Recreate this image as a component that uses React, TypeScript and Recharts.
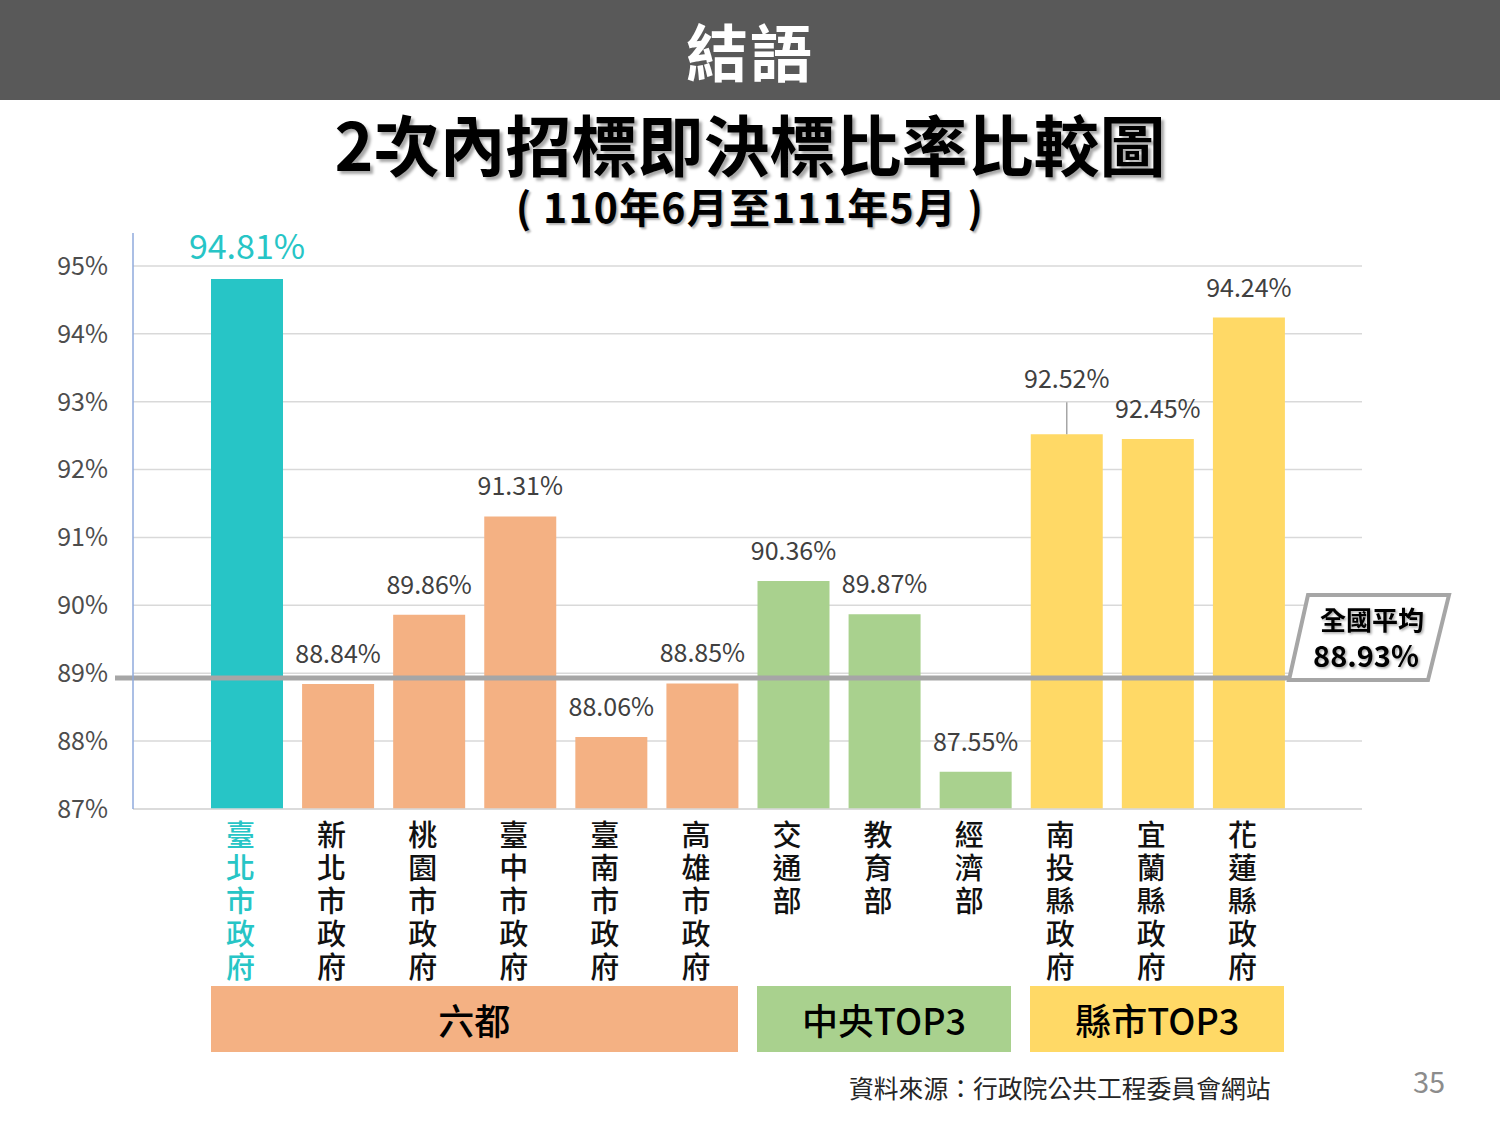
import React from "react";
import { Bar, BarChart, CartesianGrid, Cell, LabelList, ReferenceLine, XAxis, YAxis } from "recharts";

// 2次內招標即決標比率 (110年6月至111年5月)
const agencies = [
  "臺北市政府",
  "新北市政府",
  "桃園市政府",
  "臺中市政府",
  "臺南市政府",
  "高雄市政府",
  "交通部",
  "教育部",
  "經濟部",
  "南投縣政府",
  "宜蘭縣政府",
  "花蓮縣政府",
];
const rates = [94.81, 88.84, 89.86, 91.31, 88.06, 88.85, 90.36, 89.87, 87.55, 92.52, 92.45, 94.24];
const kinds = ["taipei", "six", "six", "six", "six", "six", "central", "central", "central", "county", "county", "county"];
const yTicks = [87, 88, 89, 90, 91, 92, 93, 94, 95];
const nationalAvg = 88.93;
const groupNames = ["六都", "中央TOP3", "縣市TOP3"];
const groupFirst = [0, 6, 9];
const groupLast = [5, 8, 11];

const COLORS: Record<string, string> = {
  taipei: "#27C5C6",
  six: "#F4B183",
  central: "#A9D18E",
  county: "#FFD966",
};
const GROUP_COLORS = [COLORS.six, COLORS.central, COLORS.county];

const FONT = '"Noto Sans CJK TC", "Noto Sans", sans-serif';
const LEADER_INDEX = 9;

// plot geometry (used only for the group boxes under the axis)
const PLOT_LEFT = 133;
const PLOT_RIGHT = 1362;
const X_PAD = 68;
const BAR_SIZE = 72;

const data = agencies.map((name, i) => ({ name, rate: rates[i], kind: kinds[i] }));

// vertical label: one glyph per line, stacked under the bar
function AgencyTick(props: any) {
  const { x, y, payload, index } = props;
  const chars = String(payload.value).split("");
  const color = kinds[index] === "taipei" ? COLORS.taipei : "#111111";
  return (
    <g>
      {chars.map((c, i) => (
        <text
          key={i}
          x={x - 6}
          y={y + 29 + i * 33}
          textAnchor="middle"
          fontSize={29}
          fontWeight={500}
          fontFamily={FONT}
          fill={color}
        >
          {c}
        </text>
      ))}
    </g>
  );
}

function RateLabel(props: any) {
  const { x, y, width, value, index } = props;
  const cx = x + width / 2;
  const big = kinds[index] === "taipei";
  const lift = index === LEADER_INDEX ? 46 : 21;
  return (
    <g>
      {index === LEADER_INDEX && (
        <line x1={cx} x2={cx} y1={y} y2={y - 32} stroke="#A6A6A6" strokeWidth={1.5} />
      )}
      <text
        x={cx}
        y={y - (big ? 20 : lift)}
        textAnchor="middle"
        fontFamily={FONT}
        fontSize={big ? 34 : 25}
        fill={big ? COLORS.taipei : "#404040"}
      >
        {`${Number(value).toFixed(2)}%`}
      </text>
    </g>
  );
}

function AvgLine(props: any) {
  const { x1, x2, y1 } = props;
  const px = x2 - 73;
  const py = y1;
  const pts = [
    [px + 19, py - 83],
    [px + 160, py - 83],
    [px + 139, py + 2],
    [px, py + 2],
  ]
    .map((p) => p.join(","))
    .join(" ");
  return (
    <g>
      <defs>
        <filter id="avgShadow" x="-10%" y="-10%" width="130%" height="140%">
          <feDropShadow dx="1.5" dy="1.5" stdDeviation="1" floodColor="#000" floodOpacity="0.35" />
        </filter>
      </defs>
      <line x1={x1 - 18} x2={px + 2} y1={py} y2={py} stroke="#A6A6A6" strokeWidth={5} />
      <polygon points={pts} fill="#FFFFFF" stroke="#A6A6A6" strokeWidth={4} />
      <g filter="url(#avgShadow)" fontFamily={FONT} fontWeight={700} fill="#000">
        <text x={px + 83} y={py - 48} textAnchor="middle" fontSize={26}>
          全國平均
        </text>
        <text x={px + 77} y={py - 11} textAnchor="middle" fontSize={29}>
          {`${nationalAvg.toFixed(2)}%`}
        </text>
      </g>
    </g>
  );
}

export default function App() {
  const band = (PLOT_RIGHT - PLOT_LEFT - 2 * X_PAD) / agencies.length;
  const inset = (band - BAR_SIZE) / 2;
  const bandStart = PLOT_LEFT + X_PAD;

  return (
    <div style={{ position: "absolute", left: 0, top: 0, width: 1500, height: 1125, background: "#fff", fontFamily: FONT }}>
      <div
        style={{
          position: "absolute",
          left: 0,
          top: 0,
          width: 1500,
          height: 100,
          background: "#595959",
          color: "#fff",
          fontSize: 62,
          fontWeight: 700,
          textAlign: "center",
          lineHeight: "100px",
          letterSpacing: 2,
        }}
      >
        結語
      </div>
      <div
        style={{
          position: "absolute",
          left: 0,
          top: 104,
          width: 1500,
          textAlign: "center",
          fontSize: 66,
          fontWeight: 700,
          lineHeight: "76px",
          color: "#000",
          textShadow: "3px 3px 3px rgba(0,0,0,0.35)",
        }}
      >
        2次內招標即決標比率比較圖
      </div>
      <div
        style={{
          position: "absolute",
          left: 0,
          top: 184,
          width: 1500,
          textAlign: "center",
          fontSize: 41,
          fontWeight: 700,
          lineHeight: "42px",
          color: "#000",
          whiteSpace: "pre",
          letterSpacing: 1.2,
          textShadow: "2px 2px 2px rgba(0,0,0,0.3)",
        }}
      >
        {"( 110年6月至111年5月 )"}
      </div>

      <div style={{ position: "absolute", left: 0, top: 0 }}>
        <BarChart width={1500} height={1125} data={data} margin={{ top: 233, right: 138, bottom: 286, left: 0 }}>
          <CartesianGrid vertical={false} stroke="#D9D9D9" strokeWidth={1.5} syncWithTicks />
          <XAxis
            dataKey="name"
            interval={0}
            height={30}
            padding={{ left: X_PAD, right: X_PAD }}
            tickLine={false}
            tickSize={6}
            tickMargin={2}
            axisLine={{ stroke: "#D9D9D9", strokeWidth: 1.5 }}
            tick={<AgencyTick />}
          />
          <YAxis
            type="number"
            width={133}
            domain={[87, 95.486]}
            ticks={yTicks}
            tickFormatter={(v: number) => `${v}%`}
            tickLine={false}
            tickSize={6}
            tickMargin={19}
            axisLine={{ stroke: "#8FAADC", strokeWidth: 1.5 }}
            tick={{ fontSize: 25, fill: "#4D4D4D", fontFamily: FONT }}
            allowDataOverflow
          />
          <Bar dataKey="rate" barSize={BAR_SIZE} isAnimationActive={false}>
            {data.map((d, i) => (
              <Cell key={i} fill={COLORS[d.kind]} />
            ))}
            <LabelList dataKey="rate" content={<RateLabel />} />
          </Bar>
          <ReferenceLine y={nationalAvg} ifOverflow="visible" shape={<AvgLine />} />
        </BarChart>
      </div>

      {groupNames.map((g, i) => (
        <div
          key={g}
          style={{
            position: "absolute",
            left: bandStart + groupFirst[i] * band + inset,
            width: (groupLast[i] - groupFirst[i] + 1) * band - 2 * inset,
            top: 986,
            height: 66,
            background: GROUP_COLORS[i],
            color: "#000",
            fontSize: 36,
            fontWeight: 500,
            lineHeight: "66px",
            textAlign: "center",
          }}
        >
          {g}
        </div>
      ))}

      <div
        style={{
          position: "absolute",
          left: 849,
          top: 1070,
          fontSize: 24.8,
          color: "#262626",
          lineHeight: "34px",
          whiteSpace: "nowrap",
        }}
      >
        資料來源：行政院公共工程委員會網站
      </div>
      <div style={{ position: "absolute", left: 1413, top: 1060, fontSize: 29, color: "#8C8C8C", lineHeight: "40px" }}>35</div>
    </div>
  );
}
